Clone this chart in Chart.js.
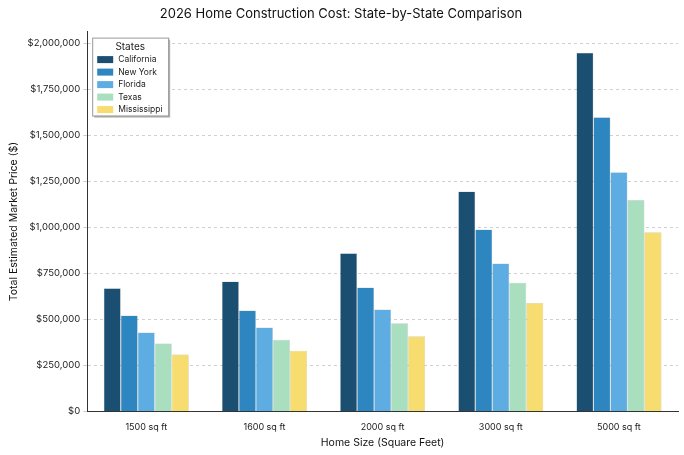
<!DOCTYPE html>
<html><head><script src="https://cdn.jsdelivr.net/npm/chart.js"></script>
<style>body{margin:0;background:#fff}#w{width:684px;height:455px}</style></head>
<body><div id="w"><canvas id="c"></canvas></div>
<script>
const categories=["1500 sq ft","1600 sq ft","2000 sq ft","3000 sq ft","5000 sq ft"];
const states=["California","New York","Florida","Texas","Mississippi"];
const california=[670000,707000,860000,1196000,1950000];
const newYork=[522000,550000,675000,990000,1600000];
const florida=[430000,457000,555000,805000,1300000];
const texas=[370000,390000,480000,700000,1150000];
const mississippi=[310000,330000,410000,590000,975000];
const colors=["#1b4f72","#2e86c1","#5dade2","#a9dfbf","#f7dc6f"];
const series=[california,newYork,florida,texas,mississippi];
const F="Inter, 'DejaVu Sans', sans-serif";
const legendPlugin={id:'inLegend',afterDraw(ch){const c=ch.ctx,a=ch.chartArea;const x=a.left+5,y=a.top+6,w=76,h=78;
c.save();c.shadowColor='rgba(0,0,0,0.3)';c.shadowOffsetX=2;c.shadowOffsetY=2;c.fillStyle='#fff';c.fillRect(x,y,w,h);c.restore();
c.save();c.strokeStyle='#999';c.lineWidth=1;c.strokeRect(x+.5,y+.5,w,h);
c.fillStyle='#222';c.font="10px "+F;c.textAlign='center';c.textBaseline='middle';c.fillText('States',x+w/2,y+9);
c.textAlign='left';c.font="8.5px "+F;
states.forEach((s,i)=>{const yy=y+22+i*12.5;c.fillStyle=colors[i];c.fillRect(x+5,yy-3.5,16,7);c.fillStyle='#222';c.fillText(s,x+26,yy);});c.restore();}};
new Chart(document.getElementById('c'),{type:'bar',
data:{labels:categories,datasets:series.map((d,i)=>({label:states[i],data:d,backgroundColor:colors[i],borderColor:'rgba(0,0,0,0.25)',borderWidth:0.5,categoryPercentage:0.72,barPercentage:1}))},
options:{responsive:true,maintainAspectRatio:false,animation:false,
layout:{padding:{left:4,right:6,top:0,bottom:2}},
plugins:{legend:{display:false},tooltip:{enabled:false},
title:{display:true,text:'2026 Home Construction Cost: State-by-State Comparison',color:'#111',font:{family:F,size:13,weight:'normal'},padding:{top:6,bottom:10}}},
scales:{x:{grid:{display:false},border:{color:'#333'},ticks:{color:'#222',font:{family:F,size:9},padding:2},
title:{display:true,text:'Home Size (Square Feet)',color:'#111',font:{family:F,size:10.5},padding:{top:2}}},
y:{min:0,max:2065000,afterBuildTicks(ax){ax.ticks=[0,250000,500000,750000,1000000,1250000,1500000,1750000,2000000].map(v=>({value:v}));},
grid:{color:'#d0d0d0',tickLength:4},border:{color:'#333',dash:[3,3]},
ticks:{color:'#222',font:{family:F,size:9.5},callback:v=>'$'+v.toLocaleString('en-US')},
title:{display:true,text:'Total Estimated Market Price ($)',color:'#111',font:{family:F,size:10.5}}}}},
plugins:[legendPlugin]});
</script></body></html>
